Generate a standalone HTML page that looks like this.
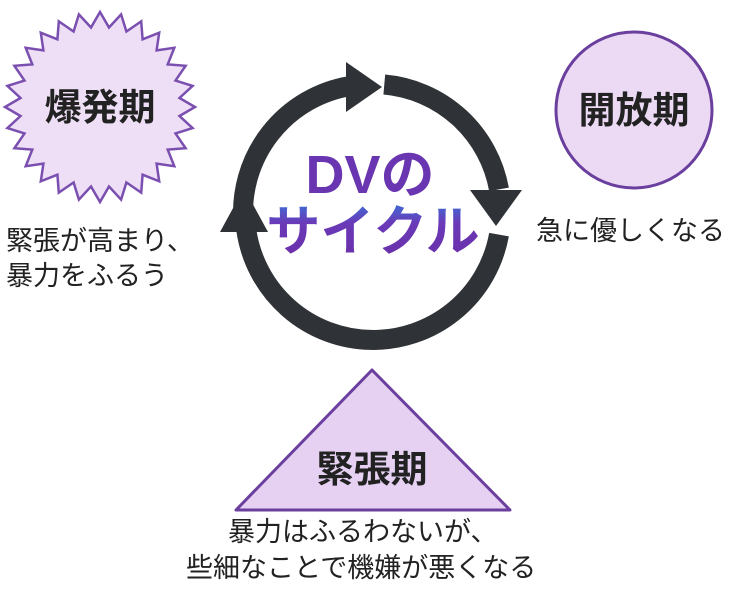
<!DOCTYPE html>
<html><head><meta charset="utf-8"><style>
body{margin:0;width:755px;height:594px;background:#fff;overflow:hidden;font-family:"Liberation Sans","Noto Sans CJK JP",sans-serif}
</style></head><body>
<svg width="755" height="594" viewBox="0 0 755 594" xmlns="http://www.w3.org/2000/svg" style="position:absolute;left:0;top:0">
<defs><linearGradient id="g" x1="0" y1="0" x2="0" y2="1"><stop offset="0" stop-color="#3a6fd6"/><stop offset="0.35" stop-color="#6a3ab8"/><stop offset="1" stop-color="#6b2ea8"/></linearGradient></defs>
<polygon id="star" fill="#eedff6" stroke="#7a4fb0" stroke-width="2.5" points=""/>
<circle cx="634" cy="110" r="78" fill="#ecdaf5" stroke="#6a3f9e" stroke-width="3"/>
<polygon points="372,370 236,510 510,510" fill="#e6d1f3" stroke="#6a3f9e" stroke-width="3" stroke-linejoin="round"/>
<g fill="none" stroke="#2f3236" stroke-width="20">
<path d="M243.5,223 A128,128 0 0 1 350.4,86"/>
<path d="M384.3,84.5 A128,128 0 0 1 499,189.4"/>
<path d="M499,234.6 A128,128 0 0 1 246.3,230"/>
</g>
<g fill="#2f3236">
<polygon points="346,62 346,112 382,87"/>
<polygon points="470,190 522,190 496,226"/>
<polygon points="220,232 268,232 244,188"/>
</g>
<text x="100" y="120" text-anchor="middle" font-size="37" font-weight="bold" fill="#222">爆発期</text>
<text x="634" y="123" text-anchor="middle" font-size="37" font-weight="bold" fill="#222">開放期</text>
<text x="372" y="482" text-anchor="middle" font-size="37" font-weight="bold" fill="#222">緊張期</text>
<text x="370" y="193" text-anchor="middle" font-size="54" font-weight="bold" fill="#6a35b0">DVの</text>
<text x="373" y="250" text-anchor="middle" font-size="54" font-weight="bold" fill="url(#g)">サイクル</text>
<g font-size="27" fill="#222">
<text x="6" y="250">緊張が高まり、</text>
<text x="6" y="285">暴力をふるう</text>
<text x="536" y="240">急に優しくなる</text>
<text x="228" y="541">暴力はふるわないが、</text>
<text x="186" y="577">些細なことで機嫌が悪くなる</text>
</g>
</svg>
<script>
var cx=100,cy=107,n=28,R=95,r=80,p=[];
for(var i=0;i<2*n;i++){var a=Math.PI*i/n-Math.PI/2,rr=i%2?r:R;p.push((cx+rr*Math.cos(a)).toFixed(1)+","+(cy+rr*Math.sin(a)).toFixed(1));}
document.getElementById("star").setAttribute("points",p.join(" "));
</script>
</body></html>
